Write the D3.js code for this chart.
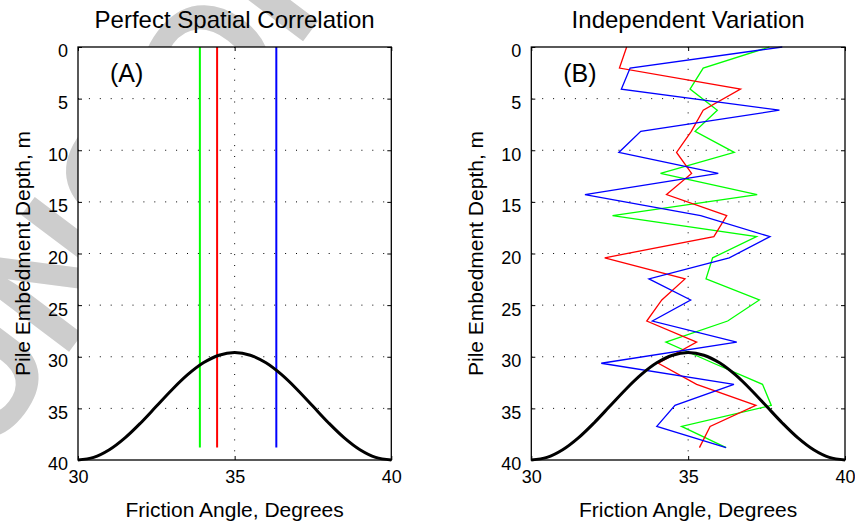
<!DOCTYPE html>
<html><head><meta charset="utf-8">
<script src="https://cdn.jsdelivr.net/npm/d3@7"></script>
<style>
body{margin:0;background:#fff}
svg{display:block}
text{font-family:"Liberation Sans",Arial,Helvetica,sans-serif}
</style>
</head><body>
<svg id="chart" width="855" height="528"></svg>
<script>
// ---------- data ----------
const depthTicks = [0, 5, 10, 15, 20, 25, 30, 35, 40];
const angleTicks = [30, 35, 40];
const panelTitles = ["Perfect Spatial Correlation", "Independent Variation"];
const panelTags = ["(A)", "(B)"];
const xLabel = "Friction Angle, Degrees";
const yLabel = "Pile Embedment Depth, m";
const watermark = "UNCORRECTED PROOF";

// panel A: constant friction angle along the pile
const pileDepthRange = [0, 38.8];
const constAngles = [33.89, 34.44, 36.33];   // green, red, blue
const seriesColors = ["#00ff00", "#ff0000", "#0000ff"];

// panel B: independent variation with depth
const depths = [0, 2.04, 4.08, 6.12, 8.17, 10.21, 12.25, 14.29, 16.33, 18.37,
                20.42, 22.46, 24.5, 26.54, 28.58, 30.63, 32.67, 34.71, 36.75, 38.8];
const greenVals = [37.59, 35.48, 35.06, 35.93, 35.22, 36.47, 34.12, 37.20, 32.59, 37.18,
                   35.78, 35.57, 37.27, 36.26, 34.29, 35.81, 37.37, 37.65, 34.79, 36.21];
const redVals   = [33.04, 32.81, 36.67, 35.48, 35.10, 34.63, 35.11, 34.31, 36.23, 35.82,
                   32.34, 34.90, 34.16, 33.68, 35.27, 34.05, 35.27, 37.16, 35.70, 35.36];
const blueVals  = [38.00, 33.15, 32.87, 37.91, 33.49, 32.79, 35.96, 31.71, 35.40, 37.61,
                   36.31, 33.75, 35.08, 33.86, 36.55, 32.23, 36.46, 34.58, 34.00, 36.21];

// distribution curve (drawn in both panels)
const pdfAngles = [30, 30.5, 31, 31.5, 32, 32.5, 33, 33.5, 34, 34.5, 35,
                   35.5, 36, 36.5, 37, 37.5, 38, 38.5, 39, 39.5, 40];
const pdfDepths = [40, 39.75, 39.01, 37.86, 36.41, 34.8, 33.19, 31.74, 30.59, 29.85, 29.6,
                   29.85, 30.59, 31.74, 33.19, 34.8, 36.41, 37.86, 39.01, 39.75, 40];

// ---------- drawing ----------
const svg = d3.select("#chart");
const W = 855, H = 528;
const yTop = 47, yBot = 460;
const panels = [{x0: 78, x1: 391.3}, {x0: 531.3, x1: 845}];

svg.append("rect").attr("width", W).attr("height", H).attr("fill", "#fff");

// watermark (behind axes)
svg.append("text")
  .attr("transform", "translate(-14,462) rotate(-53)")
  .attr("font-size", 175)
  .attr("font-weight", "bold")
  .attr("fill", "#cdcdcd")
  .text(watermark);

panels.forEach((p, i) => {
  const x = d3.scaleLinear().domain([30, 40]).range([p.x0, p.x1]);
  const y = d3.scaleLinear().domain([0, 40]).range([yTop, yBot]);
  const g = svg.append("g");

  g.append("rect").attr("x", p.x0).attr("y", yTop)
    .attr("width", p.x1 - p.x0).attr("height", yBot - yTop).attr("fill", "#fff");

  // grid
  const grid = g.append("g").attr("stroke", "#000").attr("stroke-width", 1)
    .attr("stroke-dasharray", "1,9.9").attr("fill", "none");
  depthTicks.filter(d => d > 0 && d < 40).forEach(d => {
    grid.append("line").attr("x1", p.x0).attr("x2", p.x1)
      .attr("y1", y(d)).attr("y2", y(d));
  });
  angleTicks.filter(a => a > 30 && a < 40).forEach(a => {
    grid.append("line").attr("y1", yTop).attr("y2", yBot)
      .attr("x1", x(a)).attr("x2", x(a));
  });

  if (i === 0) {
    constAngles.forEach((a, k) => {
      g.append("path")
        .attr("d", d3.line()(pileDepthRange.map(d => [x(a), y(d)])))
        .attr("stroke", seriesColors[k]).attr("stroke-width", 2).attr("fill", "none");
    });
  } else {
    [greenVals, redVals, blueVals].forEach((vals, k) => {
      const line = d3.line().x((v) => x(v)).y((v, j) => y(depths[j]));
      g.append("path").attr("d", line(vals))
        .attr("stroke", seriesColors[k]).attr("stroke-width", 1.3)
        .attr("stroke-linejoin", "miter").attr("fill", "none");
    });
  }

  // distribution curve
  const curve = d3.line().curve(d3.curveCatmullRom.alpha(0.5))
    .x((a) => x(a)).y((a, j) => y(pdfDepths[j]));
  g.append("path").attr("d", curve(pdfAngles))
    .attr("stroke", "#000").attr("stroke-width", 3).attr("fill", "none");

  // axes (ticks inside)
  const axL = g.append("g").attr("transform", `translate(${p.x0},0)`)
    .call(d3.axisLeft(y).tickValues(depthTicks).tickSize(-4).tickPadding(10));
  axL.selectAll("text").attr("dy", "0.55em").attr("font-size", 18);
  const axR = g.append("g").attr("transform", `translate(${p.x1},0)`)
    .call(d3.axisRight(y).tickValues(depthTicks).tickSize(-4).tickFormat(""));
  const axB = g.append("g").attr("transform", `translate(0,${yBot})`)
    .call(d3.axisBottom(x).tickValues(angleTicks).tickSize(-4).tickPadding(10));
  axB.selectAll("text").attr("font-size", 18);
  const axT = g.append("g").attr("transform", `translate(0,${yTop})`)
    .call(d3.axisTop(x).tickValues(angleTicks).tickSize(-4).tickFormat(""));
  [axL, axR, axB, axT].forEach(a => {
    a.attr("font-family", null).attr("font-size", null);
    a.select(".domain").remove();
    a.selectAll("line").attr("stroke", "#000");
    a.selectAll("text").attr("fill", "#000");
  });

  g.append("rect").attr("x", p.x0).attr("y", yTop)
    .attr("width", p.x1 - p.x0).attr("height", yBot - yTop)
    .attr("fill", "none").attr("stroke", "#000").attr("stroke-width", 1.3);

  const cx = (p.x0 + p.x1) / 2;
  g.append("text").attr("x", cx).attr("y", 28).attr("text-anchor", "middle")
    .attr("font-size", 24).text(panelTitles[i]);
  g.append("text").attr("x", cx).attr("y", 517).attr("text-anchor", "middle")
    .attr("font-size", 21).text(xLabel);
  g.append("text")
    .attr("transform", `translate(${p.x0 - 48.5},${(yTop + yBot) / 2}) rotate(-90)`)
    .attr("text-anchor", "middle").attr("font-size", 21).text(yLabel);
  g.append("text").attr("x", p.x0 + 32).attr("y", 82)
    .attr("font-size", 25).text(panelTags[i]);
});
</script>
</body></html>
